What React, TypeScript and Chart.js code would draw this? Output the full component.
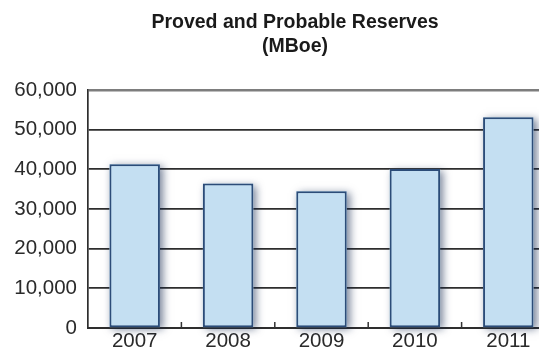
import React, { useEffect, useRef } from "react";
import { Chart, registerables } from "chart.js";

Chart.register(...registerables);

// Reserves by year (thousand barrels of oil equivalent, MBoe)
const years = ["2007", "2008", "2009", "2010", "2011"];
const reserves = [41300, 36400, 34500, 40100, 53100];
const titleLines = ["Proved and Probable Reserves", "(MBoe)"];
const yMax = 60000;
const yStep = 10000;

const FONT = "'Liberation Sans', Arial, Helvetica, sans-serif";
const BAR_FILL = "#c4dff2";

// Two-line heading drawn above the plot
const headingPlugin = {
  id: "heading",
  afterDraw(chart: any) {
    const ctx = chart.ctx;
    ctx.save();
    ctx.fillStyle = "#1a1a1a";
    ctx.font = `bold 19.5px ${FONT}`;
    ctx.textAlign = "center";
    ctx.textBaseline = "middle";
    titleLines.forEach((line, i) => {
      ctx.fillText(line, 287, 15 + i * 24);
    });
    ctx.restore();
  },
};

// Short inward tick marks between the categories along the base line
const categoryTicksPlugin = {
  id: "categoryTicks",
  beforeDatasetsDraw(chart: any) {
    const { ctx, chartArea, scales } = chart;
    const x = scales.x;
    ctx.save();
    ctx.strokeStyle = "#333";
    ctx.lineWidth = 1.5;
    for (let i = 0; i < years.length - 1; i++) {
      const px = (x.getPixelForValue(i) + x.getPixelForValue(i + 1)) / 2;
      ctx.beginPath();
      ctx.moveTo(px, chartArea.bottom);
      ctx.lineTo(px, chartArea.bottom - 6);
      ctx.stroke();
    }
    ctx.restore();
  },
};

// Soft drop shadow painted under each bar before the bars themselves
const barShadowPlugin = {
  id: "barShadow",
  beforeDatasetsDraw(chart: any) {
    const ctx = chart.ctx;
    const meta = chart.getDatasetMeta(0);
    ctx.save();
    ctx.shadowColor = "rgba(10, 30, 70, 0.55)";
    ctx.shadowBlur = 8;
    ctx.shadowOffsetX = 3;
    ctx.shadowOffsetY = 2;
    ctx.fillStyle = BAR_FILL;
    meta.data.forEach((bar: any) => {
      const { x, y, base, width } = bar.getProps(["x", "y", "base", "width"], true);
      ctx.fillRect(x - width / 2, y, width, base - y);
    });
    ctx.restore();
  },
};

export default function App() {
  const canvasRef = useRef<HTMLCanvasElement | null>(null);

  useEffect(() => {
    const canvas = canvasRef.current;
    if (!canvas) return;
    const chart = new Chart(canvas, {
      type: "bar",
      data: {
        labels: years,
        datasets: [
          {
            data: reserves,
            backgroundColor: BAR_FILL,
            borderColor: "#2c4c78",
            borderWidth: 2,
            borderSkipped: false,
            categoryPercentage: 1,
            barPercentage: 0.54,
          },
        ],
      },
      options: {
        responsive: false,
        animation: false,
        devicePixelRatio: 1,
        layout: { padding: { top: 82, left: 0, right: 1, bottom: 10 } },
        plugins: {
          legend: { display: false },
          title: { display: false },
          tooltip: { enabled: false },
        },
        scales: {
          x: {
            grid: { display: false, drawTicks: false },
            border: { display: true, color: "#2e2e2e", width: 2 },
            ticks: {
              color: "#2a2a2a",
              padding: 1,
              font: { family: FONT, size: 20.5 },
            },
            afterFit(scale: any) {
              scale.height = 30;
            },
          },
          y: {
            min: 0,
            max: yMax,
            grid: {
              drawTicks: false,
              color: (c: any) => (c.tick && c.tick.value === yMax ? "#7d7d7d" : "#2e2e2e"),
              lineWidth: (c: any) => (c.tick && c.tick.value === yMax ? 2.5 : 1.7),
            },
            border: { display: true, color: "#2e2e2e", width: 1.7 },
            ticks: {
              stepSize: yStep,
              color: "#2a2a2a",
              padding: 11,
              font: { family: FONT, size: 20.5 },
              callback: (v: any) => Number(v).toLocaleString("en-US"),
            },
            afterFit(scale: any) {
              scale.width = 80;
            },
          },
        },
      },
      plugins: [headingPlugin, categoryTicksPlugin, barShadowPlugin],
    });
    return () => chart.destroy();
  }, []);

  return (
    <div style={{ width: 539, height: 342, overflow: "hidden" }}>
      <canvas ref={canvasRef} width={548} height={360} style={{ display: "block" }} />
    </div>
  );
}
